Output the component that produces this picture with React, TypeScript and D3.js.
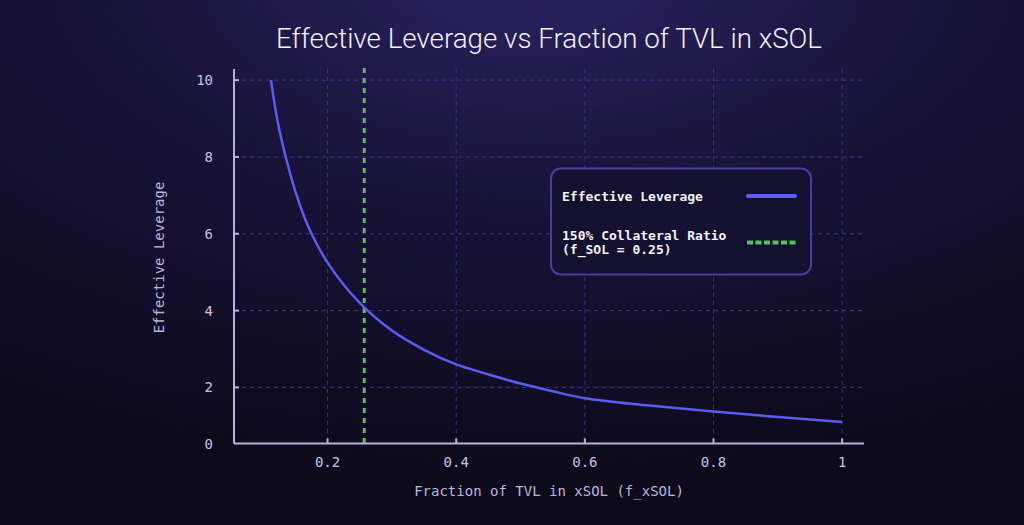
import React from 'react';
import * as d3 from 'd3';

// values
const fraction = [0.112, 0.122, 0.135, 0.15, 0.171, 0.2, 0.25, 0.3, 0.35, 0.4, 0.45, 0.5, 0.55, 0.6, 0.7, 0.8, 0.9, 1.0];
const leverage = [10.0, 8.95, 8.0, 7.1, 6.15, 5.25, 4.2, 3.48, 2.98, 2.6, 2.34, 2.1, 1.9, 1.72, 1.53, 1.37, 1.23, 1.1];

const xTicks = [0.2, 0.4, 0.6, 0.8, 1.0];
const xTickLabels = ['0.2', '0.4', '0.6', '0.8', '1'];
const yGridTicks = [2, 4, 6, 8, 10];
const yTickLabels = ['0', '2', '4', '6', '8', '10'];

const collateralLine = 0.257;

const X_DOMAIN: [number, number] = [0.0545, 1.034];
const Y_DOMAIN: [number, number] = [0.54, 10.29];

const W = 1024;
const H = 525;

const MONO = '"DejaVu Sans Mono", monospace';

const App: React.FC = () => {
  const x = d3.scaleLinear().domain(X_DOMAIN).range([234, 864]);
  const y = d3.scaleLinear().domain(Y_DOMAIN).range([443.5, 69]);

  const points = fraction.map((f, i) => [f, leverage[i]] as [number, number]);
  const line = d3.line<[number, number]>()
    .x(d => x(d[0]))
    .y(d => y(d[1]))
    .curve(d3.curveCatmullRom.alpha(0.5));

  const yTickValues = [Y_DOMAIN[0], ...yGridTicks];
  const [x0, x1] = x.range();
  const [yBottom, yTop] = y.range();

  return (
    <svg width={W} height={H} style={{ position: 'absolute', left: 0, top: 0, display: 'block' }}>
      <defs>
        <radialGradient id="bg" cx="52%" cy="-5%" r="95%" fx="52%" fy="-5%">
          <stop offset="0%" stopColor="#2b2262" />
          <stop offset="45%" stopColor="#181338" />
          <stop offset="100%" stopColor="#0d0a1b" />
        </radialGradient>
      </defs>
      <rect x={0} y={0} width={W} height={H} fill="url(#bg)" />

      <text x={549} y={48} textAnchor="middle" fill="#f2f0fa" fontFamily="Roboto, sans-serif"
        fontWeight={300} fontSize={28} textLength={546} lengthAdjust="spacingAndGlyphs">
        Effective Leverage vs Fraction of TVL in xSOL
      </text>

      {/* grid */}
      <g stroke="#3b3185" strokeWidth={1} strokeDasharray="4 4">
        {yGridTicks.map(t => (
          <line key={'gy' + t} x1={x0} x2={x1} y1={y(t)} y2={y(t)} />
        ))}
        {xTicks.map(t => (
          <line key={'gx' + t} x1={x(t)} x2={x(t)} y1={yTop} y2={yBottom} />
        ))}
      </g>

      {/* 150% collateral marker */}
      <line x1={x(collateralLine)} x2={x(collateralLine)} y1={yTop - 1} y2={yBottom}
        stroke="#52c15e" strokeWidth={3} strokeDasharray="5 5" />

      {/* curve */}
      <path d={line(points) || ''} fill="none" stroke="#5a5cf2" strokeWidth={2.5} />

      {/* axes */}
      <g stroke="#b9b2da" strokeWidth={2}>
        <line x1={x0} x2={x0} y1={yTop} y2={yBottom} />
        <line x1={x0} x2={x1} y1={yBottom} y2={yBottom} />
        {yGridTicks.map(t => (
          <line key={'ty' + t} x1={x0} x2={x0 + 5} y1={y(t)} y2={y(t)} />
        ))}
        {xTicks.map(t => (
          <line key={'tx' + t} x1={x(t)} x2={x(t)} y1={yBottom} y2={yBottom - 5} />
        ))}
      </g>

      <g fill="#c8c2e4" fontFamily={MONO} fontSize={14}>
        {yTickValues.map((t, i) => (
          <text key={'ly' + i} x={213} y={y(t) + 5} textAnchor="end">{yTickLabels[i]}</text>
        ))}
        {xTicks.map((t, i) => (
          <text key={'lx' + i} x={x(t)} y={467} textAnchor="middle">{xTickLabels[i]}</text>
        ))}
      </g>

      <text x={549} y={496} textAnchor="middle" fill="#bdb6dc" fontFamily={MONO} fontSize={14}>
        Fraction of TVL in xSOL (f_xSOL)
      </text>
      <text transform="translate(164,257.5) rotate(-90)" textAnchor="middle" fill="#bdb6dc"
        fontFamily={MONO} fontSize={14}>
        Effective Leverage
      </text>

      {/* legend */}
      <g>
        <rect x={551} y={168.5} width={260} height={106} rx={10} fill="#151030" fillOpacity={0.92}
          stroke="#4a3ba3" strokeWidth={2} />
        <g fill="#f4f2fb" fontFamily={MONO} fontSize={13} fontWeight={600}>
          <text x={562} y={201}>Effective Leverage</text>
          <text x={562} y={240}>150% Collateral Ratio</text>
          <text x={562} y={253.5}>(f_SOL = 0.25)</text>
        </g>
        <line x1={748} x2={795} y1={196} y2={196} stroke="#5a5cf2" strokeWidth={4} strokeLinecap="round" />
        <line x1={747} x2={796} y1={242.5} y2={242.5} stroke="#52c15e" strokeWidth={4}
          strokeDasharray="6 2.5" />
      </g>
    </svg>
  );
};

export default App;
